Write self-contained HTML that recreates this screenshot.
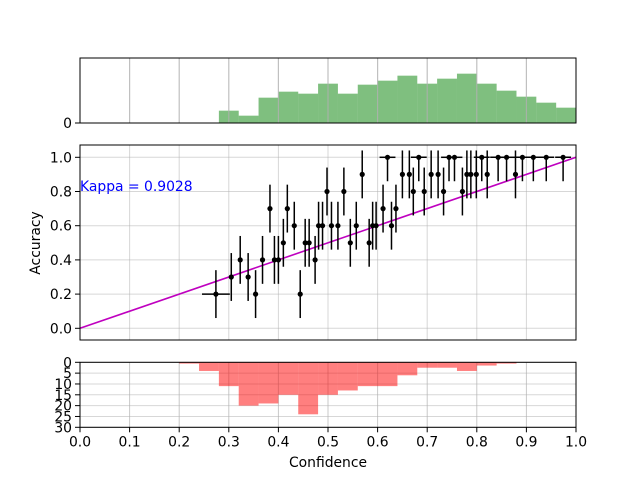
<!DOCTYPE html>
<html><head><meta charset="utf-8">
<style>
html,body{margin:0;padding:0;background:#fff;}
svg{display:block;font-family:"DejaVu Sans","Liberation Sans",sans-serif;}
</style></head>
<body>
<svg id="chart" width="640" height="480" viewBox="0 0 640 480" xmlns="http://www.w3.org/2000/svg"></svg>
<script>
// ---- data ----
const topBinStarts = [0.28,0.32,0.36,0.40,0.44,0.48,0.52,0.56,0.60,0.64,0.68,0.72,0.76,0.80,0.84,0.88,0.92,0.96];
const topCounts = [37,22,76,94,88,118,88,115,127,142,118,133,148,118,97,79,61,46];
const botBinStarts = [0.20,0.24,0.28,0.32,0.36,0.40,0.44,0.48,0.52,0.56,0.60,0.64,0.68,0.72,0.76,0.80,0.84];
const botCounts = [0.6,4,11,20,19,15,24,15,13,11,11,6,2.5,2.5,4,1.5,0.6];
const confX = [0.274,0.305,0.323,0.339,0.354,0.368,0.383,0.392,0.400,0.410,0.418,0.432,0.444,0.454,0.462,0.474,0.481,0.489,0.498,0.507,0.520,0.532,0.545,0.557,0.569,0.583,0.590,0.597,0.611,0.620,0.628,0.637,0.650,0.664,0.672,0.683,0.694,0.708,0.722,0.733,0.744,0.755,0.771,0.780,0.788,0.799,0.810,0.821,0.843,0.860,0.878,0.892,0.914,0.940,0.974];
const accY = [0.2,0.3,0.4,0.3,0.2,0.4,0.7,0.4,0.4,0.5,0.7,0.6,0.2,0.5,0.5,0.4,0.6,0.6,0.8,0.6,0.6,0.8,0.5,0.6,0.9,0.5,0.6,0.6,0.7,1.0,0.6,0.7,0.9,0.9,0.8,1.0,0.8,0.9,0.9,0.8,1.0,1.0,0.8,0.9,0.9,0.9,1.0,0.9,1.0,1.0,0.9,1.0,1.0,1.0,1.0];
const kappaText = "Kappa = 0.9028";
const xTicks = [0.0,0.1,0.2,0.3,0.4,0.5,0.6,0.7,0.8,0.9,1.0];
const yTicks = [0.0,0.2,0.4,0.6,0.8,1.0];
const botTicks = [0,5,10,15,20,25,30];

// ---- layout ----
const svg = document.getElementById('chart');
const NS = 'http://www.w3.org/2000/svg';
const L = 80, R = 576;
const T1 = 58, B1 = 123, T2 = 145, B2 = 340, T3 = 362.3, B3 = 427.3;
const FS = 13.9;
const sx = v => L + (R - L) * v;
const yTop = v => B1 - (B1 - T1) * v / 195;
const yMid = v => 328.3 - 171 * v;
const yBot = v => T3 + (B3 - T3) * v / 30;
function mk(tag, attrs, parent) {
  const e = document.createElementNS(NS, tag);
  for (const k in attrs) e.setAttribute(k, attrs[k]);
  (parent || svg).appendChild(e);
  return e;
}
function txt(s, x, y, anchor, size, color, parent) {
  const t = mk('text', {x: x, y: y, 'text-anchor': anchor, 'font-size': size, fill: color || '#000'}, parent);
  t.textContent = s;
  return t;
}

// ---- top histogram ----
const gTop = mk('g', {});


topBinStarts.forEach((b, i) => {
  const r = mk('rect', {x: sx(b), y: yTop(topCounts[i]), width: sx(b + 0.04) - sx(b), height: B1 - yTop(topCounts[i]), fill: 'rgba(0,128,0,0.5)'}, gTop);
  
  
});
xTicks.slice(1, -1).forEach(t => mk('line', {x1: sx(t), x2: sx(t), y1: T1, y2: B1, stroke: '#b0b0b0', 'stroke-width': 1.2, 'stroke-opacity': 0.8}, gTop));
mk('rect', {x: L, y: T1, width: R - L, height: B1 - T1, fill: 'none', stroke: '#000', 'stroke-width': 1}, gTop);
mk('line', {x1: L - 5, x2: L, y1: B1, y2: B1, stroke: '#000'}, gTop);
txt('0', L - 8, B1 + 5, 'end', FS, '#000', gTop);

// ---- main plot ----
const gMain = mk('g', {});


xTicks.slice(1, -1).forEach(t => mk('line', {x1: sx(t), x2: sx(t), y1: T2, y2: B2, stroke: '#b0b0b0', 'stroke-width': 1, 'stroke-opacity': 0.5}, gMain));
yTicks.forEach(t => mk('line', {x1: L, x2: R, y1: yMid(t), y2: yMid(t), stroke: '#b0b0b0', 'stroke-width': 1, 'stroke-opacity': 0.5}, gMain));
const diag = mk('line', {x1: sx(0), y1: yMid(0), x2: sx(1), y2: yMid(1), stroke: '#bf00bf', 'stroke-width': 1.6}, gMain);


confX.forEach((c, i) => {
  const a = accY[i];
  const hi = a >= 1 ? 0 : 0.14;
  const lo = 0.14;
  const g = mk('g', {}, gMain);
  
  
  mk('line', {x1: sx(c), x2: sx(c), y1: yMid(a + hi), y2: yMid(a - lo), stroke: '#000', 'stroke-width': 1.5}, g);
  if (a >= 1) {
    mk('line', {x1: sx(c - 0.016), x2: sx(c + 0.016), y1: yMid(a), y2: yMid(a), stroke: '#000', 'stroke-width': 1.5}, g);
  } else if (i === 0) {
    mk('line', {x1: sx(c - 0.028), x2: sx(c + 0.028), y1: yMid(a), y2: yMid(a), stroke: '#000', 'stroke-width': 1.5}, g);
  }
  mk('circle', {cx: sx(c), cy: yMid(a), r: 2.6, fill: '#000'}, g);
});
mk('rect', {x: L, y: T2, width: R - L, height: B2 - T2, fill: 'none', stroke: '#000', 'stroke-width': 1}, gMain);
yTicks.forEach(t => {
  mk('line', {x1: L - 5, x2: L, y1: yMid(t), y2: yMid(t), stroke: '#000'}, gMain);
  const tl = txt(t.toFixed(1), L - 8, yMid(t) + 5, 'end', FS, '#000', gMain);
  
  
});
const kap = txt(kappaText, 80, 191, 'start', FS, '#0000ff', gMain);


const yl = txt('Accuracy', 0, 0, 'middle', FS, '#000', gMain);
yl.setAttribute('transform', 'translate(40,243) rotate(-90)');



// ---- bottom histogram ----
const gBot = mk('g', {});


xTicks.slice(1, -1).forEach(t => mk('line', {x1: sx(t), x2: sx(t), y1: T3, y2: B3, stroke: '#b0b0b0', 'stroke-width': 1, 'stroke-opacity': 0.7}, gBot));
botTicks.forEach(t => mk('line', {x1: L, x2: R, y1: yBot(t), y2: yBot(t), stroke: '#b0b0b0', 'stroke-width': 1, 'stroke-opacity': 0.5}, gBot));
botBinStarts.forEach((b, i) => {
  const r = mk('rect', {x: sx(b), y: T3, width: sx(b + 0.04) - sx(b), height: yBot(botCounts[i]) - T3, fill: 'rgba(255,0,0,0.5)'}, gBot);
  
  
});
mk('rect', {x: L, y: T3, width: R - L, height: B3 - T3, fill: 'none', stroke: '#000', 'stroke-width': 1}, gBot);
botTicks.forEach(t => {
  mk('line', {x1: L - 5, x2: L, y1: yBot(t), y2: yBot(t), stroke: '#000'}, gBot);
  txt(String(t), L - 8, yBot(t) + 5, 'end', FS, '#000', gBot);
});
xTicks.forEach(t => {
  mk('line', {x1: sx(t), x2: sx(t), y1: B3, y2: B3 + 5, stroke: '#000'}, gBot);
  const tl = txt(t.toFixed(1), sx(t), B3 + 19, 'middle', FS, '#000', gBot);
  
  
});
const xl = txt('Confidence', 328, 467, 'middle', FS, '#000', gBot);


</script>
</body></html>
